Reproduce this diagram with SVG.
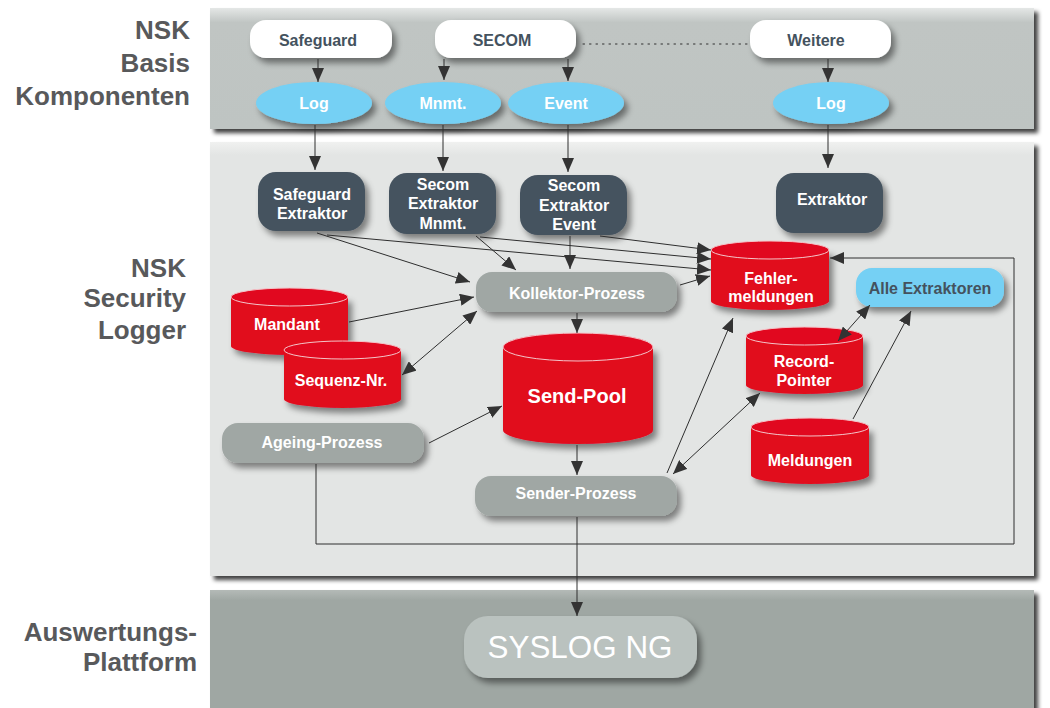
<svg xmlns="http://www.w3.org/2000/svg" width="1050" height="708" viewBox="0 0 1050 708">
<style>
.lbl{font-family:"Liberation Sans",Arial,sans-serif;font-weight:bold;font-size:26px;fill:#58595b;text-anchor:end}
.t{font-family:"Liberation Sans",Arial,sans-serif;font-weight:bold;font-size:16px;text-anchor:middle}
.w{fill:#ffffff}
.d{fill:#44525e}
.white{fill:#ffffff}
.slate{fill:#44525e}
.blue{fill:#74d0f4}
.grey{fill:#a0a7a4}
.red{fill:#e1081f}
.top{fill:#e1081f;stroke:#f4c4c9;stroke-width:1}
.c{fill:none;stroke:#2e2e2e;stroke-width:1}
.ar{marker-end:url(#ah)}
.dbl{marker-start:url(#as);marker-end:url(#ah)}
</style>
<defs>
<marker id="ah" markerUnits="userSpaceOnUse" markerWidth="15" markerHeight="12" refX="14" refY="6" orient="auto"><path d="M0,0 L14,6 L0,12 Z" fill="#333"/></marker>
<marker id="as" markerUnits="userSpaceOnUse" markerWidth="15" markerHeight="12" refX="1" refY="6" orient="auto"><path d="M15,0 L1,6 L15,12 Z" fill="#333"/></marker>
<filter id="sh" x="-20%" y="-20%" width="150%" height="160%"><feDropShadow dx="4" dy="5" stdDeviation="3" flood-color="#000" flood-opacity="0.45"/></filter>
<filter id="psh" x="-5%" y="-10%" width="110%" height="130%"><feDropShadow dx="4" dy="4" stdDeviation="2" flood-color="#000" flood-opacity="0.75"/></filter>
<linearGradient id="gTop" x1="0" y1="0" x2="0" y2="1"><stop offset="0" stop-color="#e4e7e6"/><stop offset="0.12" stop-color="#c0c5c3"/><stop offset="1" stop-color="#bec4c2"/></linearGradient>
<linearGradient id="gMid" x1="0" y1="0" x2="0" y2="1"><stop offset="0" stop-color="#f0f1f0"/><stop offset="0.03" stop-color="#e3e5e4"/><stop offset="1" stop-color="#e3e5e4"/></linearGradient>
<linearGradient id="gBot" x1="0" y1="0" x2="0" y2="1"><stop offset="0" stop-color="#b4bab7"/><stop offset="0.08" stop-color="#9fa7a3"/><stop offset="1" stop-color="#9fa7a3"/></linearGradient>
</defs>
<rect width="1050" height="708" fill="#ffffff"/>

<g id="labels">
<text class="lbl" x="190" y="39">NSK</text>
<text class="lbl" x="190" y="72">Basis</text>
<text class="lbl" x="190" y="105">Komponenten</text>
<text class="lbl" x="186" y="277">NSK</text>
<text class="lbl" x="186" y="307">Security</text>
<text class="lbl" x="186" y="339">Logger</text>
<text class="lbl" x="197" y="641">Auswertungs-</text>
<text class="lbl" x="197" y="671">Plattform</text>
</g>

<g id="panels">
<rect x="210" y="8" width="824" height="121" fill="url(#gTop)" filter="url(#psh)"/>
<rect x="210" y="142" width="824" height="434" fill="url(#gMid)" filter="url(#psh)"/>
<rect x="210" y="590" width="824" height="130" fill="url(#gBot)" filter="url(#psh)"/>
</g>

<g id="safeguard"><rect class="white" x="250" y="20" width="142" height="38" rx="16" filter="url(#sh)"/><text class="t d" x="318" y="46">Safeguard</text></g>
<g id="secom"><rect class="white" x="435" y="20" width="141" height="38" rx="16" filter="url(#sh)"/><text class="t d" x="502" y="46">SECOM</text></g>
<g id="weitere"><rect class="white" x="750" y="20" width="141" height="38" rx="16" filter="url(#sh)"/><text class="t d" x="816" y="46">Weitere</text></g>

<g id="log1"><ellipse class="blue" cx="314" cy="103" rx="58" ry="21" filter="url(#sh)"/><text class="t w" x="314" y="109">Log</text></g>
<g id="mnmt"><ellipse class="blue" cx="443" cy="103" rx="58" ry="21" filter="url(#sh)"/><text class="t w" x="443" y="109">Mnmt.</text></g>
<g id="event"><ellipse class="blue" cx="566" cy="103" rx="58" ry="21" filter="url(#sh)"/><text class="t w" x="566" y="109">Event</text></g>
<g id="log2"><ellipse class="blue" cx="831" cy="103" rx="58" ry="21" filter="url(#sh)"/><text class="t w" x="831" y="109">Log</text></g>

<g id="safeguard-extraktor"><rect class="slate" x="258" y="172" width="107" height="59" rx="18" filter="url(#sh)"/><text class="t w" x="312" y="200">Safeguard</text><text class="t w" x="312" y="219">Extraktor</text></g>
<g id="secom-extraktor-mnmt"><rect class="slate" x="389" y="173" width="107" height="61" rx="18" filter="url(#sh)"/><text class="t w" x="443" y="190">Secom</text><text class="t w" x="443" y="209">Extraktor</text><text class="t w" x="443" y="229">Mnmt.</text></g>
<g id="secom-extraktor-event"><rect class="slate" x="520" y="175" width="107" height="60" rx="18" filter="url(#sh)"/><text class="t w" x="574" y="191">Secom</text><text class="t w" x="574" y="211">Extraktor</text><text class="t w" x="574" y="230">Event</text></g>
<g id="extraktor"><rect class="slate" x="776" y="173" width="107" height="60" rx="18" filter="url(#sh)"/><text class="t w" x="832" y="205">Extraktor</text></g>

<g id="kollektor"><rect class="grey" x="476" y="272" width="201" height="40" rx="16" filter="url(#sh)"/><text class="t w" x="577" y="299">Kollektor-Prozess</text></g>

<g id="fehlermeldungen"><path class="red" d="M711,250 L711,301 A59,9 0 0 0 829,301 L829,250 Z" filter="url(#sh)"/><ellipse class="top" cx="770" cy="250" rx="59" ry="9"/><text class="t w" x="771" y="284">Fehler-</text><text class="t w" x="771" y="302">meldungen</text></g>

<g id="alle-extraktoren"><rect class="blue" x="856" y="268" width="148" height="39" rx="16" filter="url(#sh)"/><text class="t d" x="930" y="294">Alle Extraktoren</text></g>

<g id="mandant"><path class="red" d="M231,297 L231,346 A58.5,9 0 0 0 348,346 L348,297 Z" filter="url(#sh)"/><ellipse class="top" cx="289.5" cy="297" rx="58.5" ry="9"/><text class="t w" x="287" y="330">Mandant</text></g>

<g id="sequenz-nr"><path class="red" d="M284,350 L284,399 A58.5,9 0 0 0 401,399 L401,350 Z" filter="url(#sh)"/><ellipse class="top" cx="342.5" cy="350" rx="58.5" ry="9"/><text class="t w" x="341" y="386">Sequenz-Nr.</text></g>

<g id="send-pool"><path class="red" d="M503,347 L503,430 A75,14 0 0 0 653,430 L653,347 Z" filter="url(#sh)"/><ellipse class="top" cx="578" cy="347" rx="75" ry="14"/><text class="t w" x="577" y="403" style="font-size:20px">Send-Pool</text></g>

<g id="record-pointer"><path class="red" d="M746,336 L746,385 A58.5,9 0 0 0 863,385 L863,336 Z" filter="url(#sh)"/><ellipse class="top" cx="804.5" cy="336" rx="58.5" ry="9"/><text class="t w" x="804" y="367">Record-</text><text class="t w" x="804" y="386">Pointer</text></g>

<g id="meldungen"><path class="red" d="M751,427 L751,475 A59,9 0 0 0 869,475 L869,427 Z" filter="url(#sh)"/><ellipse class="top" cx="810" cy="427" rx="59" ry="9"/><text class="t w" x="810" y="466">Meldungen</text></g>

<g id="ageing"><rect class="grey" x="222" y="423" width="202" height="40" rx="16" filter="url(#sh)"/><text class="t w" x="322" y="448">Ageing-Prozess</text></g>
<g id="sender"><rect class="grey" x="475" y="476" width="202" height="40" rx="16" filter="url(#sh)"/><text class="t w" x="576" y="499">Sender-Prozess</text></g>

<g id="syslog"><rect x="464" y="616" width="233" height="62" rx="24" fill="#bac2bf" filter="url(#sh)"/><text x="580" y="658" text-anchor="middle" fill="#ffffff" textLength="185" lengthAdjust="spacingAndGlyphs" style="font-family:'Liberation Sans',Arial,sans-serif;font-size:31px">SYSLOG NG</text></g>

<g id="connectors">
<line class="c" x1="583" y1="44" x2="750" y2="44" stroke-dasharray="1.5 5" stroke-width="2" stroke-linecap="round"/>
<line class="c ar" x1="318" y1="59" x2="318" y2="82"/>
<line class="c ar" x1="444" y1="59" x2="444" y2="80"/>
<line class="c ar" x1="568" y1="59" x2="568" y2="81"/>
<line class="c ar" x1="828" y1="59" x2="828" y2="82"/>
<line class="c ar" x1="315" y1="125" x2="315" y2="170"/>
<line class="c ar" x1="443" y1="125" x2="443" y2="171"/>
<line class="c ar" x1="568" y1="125" x2="568" y2="172"/>
<line class="c ar" x1="828" y1="125" x2="828" y2="168"/>
<line class="c ar" x1="317" y1="233" x2="470" y2="282"/>
<line class="c ar" x1="327" y1="235" x2="711" y2="270"/>
<line class="c ar" x1="476" y1="236" x2="516" y2="270"/>
<line class="c ar" x1="480" y1="237" x2="711" y2="259"/>
<line class="c ar" x1="570" y1="236" x2="570" y2="269"/>
<line class="c ar" x1="600" y1="236" x2="711" y2="250"/>
<line class="c ar" x1="349" y1="322" x2="474" y2="297"/>
<line class="c dbl" x1="402" y1="375" x2="477" y2="311"/>
<line class="c ar" x1="577" y1="313" x2="577" y2="333"/>
<line class="c ar" x1="680" y1="285" x2="710" y2="276"/>
<line class="c ar" x1="429" y1="443" x2="502" y2="406"/>
<line class="c ar" x1="577" y1="445" x2="577" y2="475"/>
<line class="c ar" x1="667" y1="473" x2="733" y2="318"/>
<line class="c dbl" x1="673" y1="474" x2="760" y2="393"/>
<line class="c dbl" x1="838" y1="341" x2="870" y2="305"/>
<line class="c ar" x1="853" y1="419" x2="911" y2="311"/>
<polyline class="c ar" points="316,464 316,544 1014,544 1014,258 830,258"/>
<line class="c ar" x1="577" y1="517" x2="577" y2="616"/>
</g>
</svg>
